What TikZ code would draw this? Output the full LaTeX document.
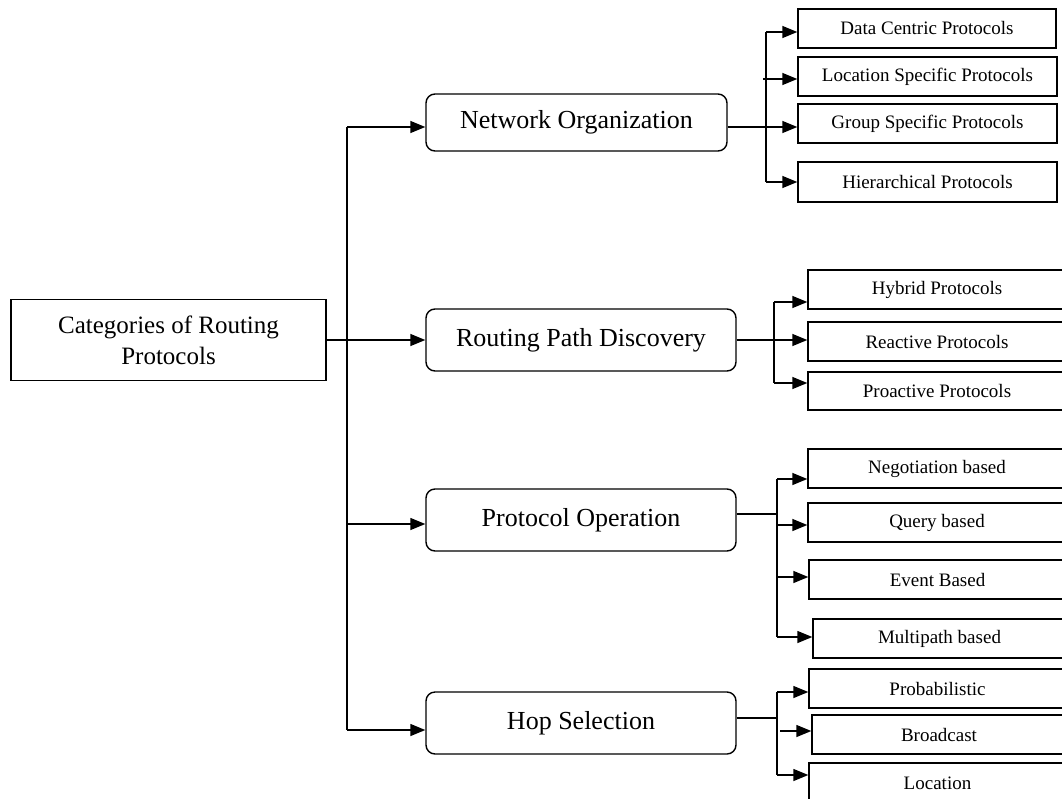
\documentclass[tikz,border=0pt]{standalone}
\usepackage{fontspec}
\setmainfont{Liberation Serif}
\usetikzlibrary{arrows.meta}

\tikzset{
  wire/.style={line width=1.4pt, draw=black},
  arr/.style={wire, -{Triangle[length=15pt,width=12pt]}},
  rootbox/.style={draw, line width=1.4pt, inner sep=0pt, align=center,
    font=\fontsize{25}{31}\selectfont},
  catbox/.style={draw, line width=1.4pt, rounded corners=9pt, inner sep=0pt,
    font=\fontsize{26}{30}\selectfont},
  leafbox/.style={draw, line width=1.4pt, inner sep=0pt,
    font=\fontsize{19}{23}\selectfont},
}

\begin{document}
\begin{tikzpicture}[x=1pt,y=-1pt]
\useasboundingbox (0,0) rectangle (1062,798);

% root
\node[rootbox, minimum width=315pt, minimum height=81pt] (root) at (168.5,340)
  {Categories of Routing\\Protocols};

% categories
\node[catbox, minimum width=301pt, minimum height=57pt] (no)  at (576.5,122.5) {Network Organization};
\node[catbox, minimum width=310pt, minimum height=62pt] (rpd) at (581,340)   {Routing Path Discovery};
\node[catbox, minimum width=310pt, minimum height=62pt] (po)  at (581,520)   {Protocol Operation};
\node[catbox, minimum width=310pt, minimum height=62pt] (hs)  at (581,723)   {Hop Selection};

% network organization leaves
\node[leafbox, minimum width=258pt, minimum height=39pt] (dc) at (927,28.5)  {Data Centric Protocols};
\node[leafbox, minimum width=259pt, minimum height=39pt] (ls) at (927.5,76.5)  {Location Specific Protocols};
\node[leafbox, minimum width=259pt, minimum height=39pt] (gs) at (927.5,123.5) {Group Specific Protocols};
\node[leafbox, minimum width=259pt, minimum height=40pt] (hp) at (927.5,182)   {Hierarchical Protocols};

% routing path discovery leaves
\node[leafbox, minimum width=258pt, minimum height=39pt] (hy) at (937,289.5) {Hybrid Protocols};
\node[leafbox, minimum width=258pt, minimum height=39pt] (re) at (937,341.5) {Reactive Protocols};
\node[leafbox, minimum width=258pt, minimum height=38pt] (pa) at (937,391)   {Proactive Protocols};

% protocol operation leaves
\node[leafbox, minimum width=258pt, minimum height=39pt] (ng) at (937,468.5) {Negotiation based};
\node[leafbox, minimum width=258pt, minimum height=39pt] (qb) at (937,522.5) {Query based};
\node[leafbox, minimum width=257pt, minimum height=39pt] (eb) at (937.5,579.5) {Event Based};
\node[leafbox, minimum width=253pt, minimum height=39pt] (mb) at (939.5,638.5) {Multipath based};

% hop selection leaves
\node[leafbox, minimum width=257pt, minimum height=39pt] (pr) at (937.5,688.5) {Probabilistic};
\node[leafbox, minimum width=254pt, minimum height=39pt] (bc) at (939,734.5)   {Broadcast};
\node[leafbox, minimum width=257pt, minimum height=40pt] (lo) at (937.5,783)   {Location};

% main bus
\coordinate (b1) at (347,127);
\coordinate (b3) at (347,524);
\coordinate (b4) at (347,730);
\draw[wire] (b1) -- (b4);
\draw[arr] (b1) -- (b1 -| no.west);
\draw[arr] (root.east) -- (root.east -| rpd.west);
\draw[arr] (b3) -- (b3 -| po.west);
\draw[arr] (b4) -- (b4 -| hs.west);

% network organization branch
\coordinate (n0) at (766,127);
\coordinate (n1) at (766,32);
\coordinate (n2) at (763,79);
\coordinate (n4) at (766,182);
\draw[wire] (n1) -- (n4);
\draw[arr] (no.east |- n0) -- (n0 -| gs.west);
\draw[arr] (n1) -- (n1 -| dc.west);
\draw[arr] (n2) -- (n2 -| ls.west);
\draw[arr] (n4) -- (n4 -| hp.west);

% routing path discovery branch
\coordinate (r1) at (774,302);
\coordinate (r3) at (774,383);
\draw[wire] (r1) -- (r3);
\draw[arr] (rpd.east) -- (rpd.east -| re.west);
\draw[arr] (r1) -- (r1 -| hy.west);
\draw[arr] (r3) -- (r3 -| pa.west);

% protocol operation branch
\coordinate (p0) at (777,514);
\coordinate (p1) at (777,479);
\coordinate (p2) at (777,525);
\coordinate (p3) at (777,577);
\coordinate (p4) at (777,637);
\draw[wire] (p1) -- (p4);
\draw[wire] (po.east |- p0) -- (p0);
\draw[arr] (p1) -- (p1 -| ng.west);
\draw[arr] (p2) -- (p2 -| qb.west);
\draw[arr] (p3) -- (p3 -| eb.west);
\draw[arr] (p4) -- (p4 -| mb.west);

% hop selection branch
\coordinate (h0) at (777,718);
\coordinate (h1) at (777,692);
\coordinate (h2) at (780,731);
\coordinate (h3) at (777,775);
\draw[wire] (h1) -- (h3);
\draw[wire] (hs.east |- h0) -- (h0);
\draw[arr] (h1) -- (h1 -| pr.west);
\draw[arr] (h2) -- (h2 -| bc.west);
\draw[arr] (h3) -- (h3 -| lo.west);
\end{tikzpicture}
\end{document}
